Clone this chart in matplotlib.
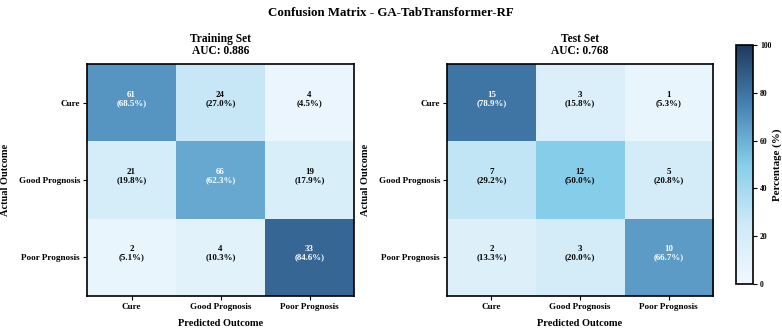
import numpy as np
import matplotlib
matplotlib.use("Agg")
import matplotlib.pyplot as plt
from matplotlib.colors import LinearSegmentedColormap

plt.rcParams['font.family'] = ['Liberation Serif', 'DejaVu Serif']
plt.rcParams['font.weight'] = 'bold'

# data
classes = ["Cure", "Good Prognosis", "Poor Prognosis"]
train_counts = [[61, 24, 4],
                [21, 66, 19],
                [2, 4, 33]]
test_counts = [[15, 3, 1],
               [7, 12, 5],
               [2, 3, 10]]
train_auc = 0.886
test_auc = 0.768
model_name = "GA-TabTransformer-RF"

cmap = LinearSegmentedColormap.from_list(
    "blues_custom",
    [(0.0, "#F0F8FF"), (0.25, "#CEEAF7"), (0.5, "#87CEEB"),
     (0.75, "#4682B4"), (1.0, "#1E3A5F")])

W, H = 782, 328
fig = plt.figure(figsize=(W / 100, H / 100), dpi=100)


def draw_cm(ax, counts, title):
    counts = np.array(counts)
    pct = counts / counts.sum(axis=1, keepdims=True) * 100
    im = ax.imshow(pct, cmap=cmap, vmin=0, vmax=100, aspect='auto')
    for i in range(pct.shape[0]):
        for j in range(pct.shape[1]):
            color = 'white' if pct[i, j] > 55 else 'black'
            ax.text(j, i - 0.05, f"{counts[i, j]}\n({pct[i, j]:.1f}%)", ha='center', va='center',
                    fontsize=6.4, fontweight='bold', color=color, linespacing=1.0)
    ax.set_xticks(range(len(classes)))
    ax.set_yticks(range(len(classes)))
    ax.set_xticklabels(classes, fontsize=6.6, fontweight='bold')
    ax.set_yticklabels(classes, fontsize=6.6, fontweight='bold')
    ax.tick_params(length=3, width=0.8, pad=2)
    ax.set_xlabel("Predicted Outcome", fontsize=7.5, fontweight='bold', labelpad=6)
    ax.set_ylabel("Actual Outcome", fontsize=7.5, fontweight='bold')
    ax.yaxis.set_label_coords(-0.29, 0.5)
    ax.set_title(title, fontsize=8.3, fontweight='bold', pad=7, linespacing=1.0)
    for s in ax.spines.values():
        s.set_linewidth(1.2)
    return im


ax1 = fig.add_axes([87 / W, 1 - 296 / H, 267 / W, 232 / H])
ax2 = fig.add_axes([447 / W, 1 - 296 / H, 266 / W, 232 / H])
draw_cm(ax1, train_counts, f"Training Set\nAUC: {train_auc:.3f}")
im = draw_cm(ax2, test_counts, f"Test Set\nAUC: {test_auc:.3f}")

cax = fig.add_axes([736 / W, 1 - 284 / H, 17 / W, 239 / H])
cb = fig.colorbar(im, cax=cax)
cb.set_ticks([0, 20, 40, 60, 80, 100])
cb.ax.tick_params(labelsize=5.5, length=3, width=0.8, pad=2)
cb.outline.set_linewidth(1.2)
cb.set_label("Percentage (%)", fontsize=7.8, fontweight='bold', labelpad=1)

fig.suptitle(f"Confusion Matrix - {model_name}", fontsize=9.3, fontweight='bold', y=1 - 13 / H, va='center')

fig.savefig("out.png", dpi=100)
